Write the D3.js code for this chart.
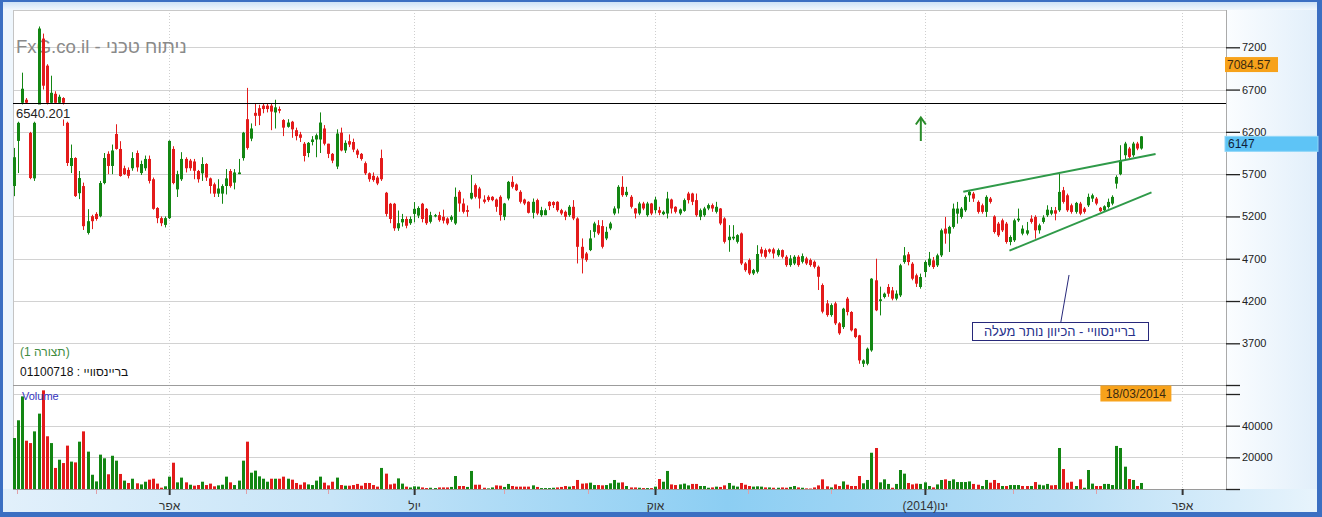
<!DOCTYPE html>
<html><head><meta charset="utf-8">
<script src="https://cdn.jsdelivr.net/npm/d3@7"></script>
<style>body{margin:0;background:#fff}svg{display:block;font-family:"Liberation Sans",Arial,sans-serif}</style>
</head><body><svg id="c" width="1322" height="517"></svg>
<script>
// ---------- DATA ----------
const opens = [5560,6093,6544,6580,6188,5650,6449,7303,6983,6544, 6650,6544,6600,6307,5797,5891,5475,5559,5005,5203,
 5230,5203,5595,5940,5797,6175,5998,5770,5750,5770, 5950,5713,5770,5880,5640,5300,5180,5100,5180,5998,
 5520,5640,5880,5860,5850,5737,5710,5820,5650,5580, 5470,5470,5560,5737,5600,5700,5890,6350,6120,6425,
 6480,6510,6510,6510,6430,6470,6340,6260,6320,6220, 6170,6060,5950,6080,6110,6110,6240,6060,5940,5790,
 6190,5980,6090,6080,5980,5940,5830,5710,5680,5660, 5890,5480,5350,5350,5060,5130,5170,5120,5230,5210,
 5350,5290,5137,5200,5215,5196,5176,5160,5117,5491, 5353,5275,5412,5570,5530,5400,5432,5432,5400,5432,
 5196,5412,5609,5578,5491,5400,5373,5243,5393,5215, 5215,5373,5370,5373,5274,5255,5215,5314,5176,4841,
 4762,4802,5018,5097,5086,4940,5058,5235,5294,5550, 5452,5432,5294,5235,5353,5215,5353,5274,5274,5227,
 5235,5400,5314,5235,5266,5471,5471,5393,5196,5215, 5294,5334,5255,5294,5176,4920,4940,4900,4999,4644,
 4684,4526,4546,4811,4802,4811,4811,4742,4802,4723, 4625,4644,4723,4664,4703,4684,4664,4605,4389,4172,
 4034,4172,3936,3892,4228,4070,3873,3794,3458,3458, 3616,4445,4200,4247,4366,4326,4228,4267,4661,4752,
 4641,4504,4366,4543,4622,4681,4622,4740,5056,4997, 5076,5233,5194,5273,5450,5470,5372,5332,5254,5411,
 5200,5115,5154,5115,4898,4918,5154,4997,4997,5174, 5194,5036,5135,5214,5233,5273,5273,5510,5450,5332,
 5254,5352,5293,5332,5411,5411,5302,5273,5312,5352, 5588,5699,5924,6003,5924,6062,6003];
const highs = [6010,6320,6900,6600,6200,6320,7446,7362,7000,6864, 6680,6640,6610,6320,6050,5900,5737,5600,5286,5220,
 5250,5620,5950,5970,6050,6290,6090,5800,5780,5960, 5980,5860,5920,5920,5660,5310,5200,5200,6100,6030,
 5740,5960,5900,5880,5880,5750,5900,5830,5660,5600, 5640,5580,5760,5760,5760,5880,6200,6720,6300,6530,
 6520,6530,6530,6540,6580,6500,6350,6350,6330,6250, 6200,6080,6080,6150,6180,6430,6280,6060,5950,6230,
 6250,6100,6170,6120,6000,5950,5850,5720,5720,5680, 5990,5490,5360,5360,5270,5230,5200,5200,5370,5320,
 5360,5300,5255,5230,5255,5280,5190,5215,5542,5510, 5412,5330,5690,5590,5550,5450,5450,5440,5412,5450,
 5360,5620,5676,5590,5510,5410,5380,5412,5410,5314, 5294,5380,5380,5380,5290,5270,5334,5393,5190,4940,
 4780,5038,5137,5156,5156,5078,5137,5320,5570,5676, 5550,5452,5300,5373,5373,5373,5360,5432,5314,5270,
 5491,5410,5320,5294,5412,5491,5480,5471,5294,5314, 5353,5353,5373,5300,5190,5097,5097,4990,5010,4660,
 4703,4580,4860,4841,4821,4821,4830,4821,4810,4742, 4742,4742,4742,4762,4723,4703,4680,4620,4408,4211,
 4172,4192,3950,4120,4248,4080,3880,3800,3510,3650, 4470,4700,4370,4300,4400,4366,4326,4640,4838,4780,
 4660,4524,4524,4681,4780,4720,4760,5056,5194,5090, 5352,5372,5312,5450,5510,5490,5390,5352,5450,5430,
 5214,5135,5174,5135,4977,5174,5293,5095,5135,5214, 5214,5115,5214,5332,5312,5312,5707,5549,5470,5352,
 5372,5372,5312,5470,5470,5430,5312,5332,5411,5450, 5687,6042,6082,6022,6082,6082,6150];
const lows = [5440,5713,6520,6530,5640,5620,6425,6700,6520,6530, 6530,6530,6271,5797,5713,5430,5405,5040,4986,5050,
 5150,5190,5580,5700,5700,5990,5670,5690,5650,5740, 5730,5690,5740,5590,5280,5120,5085,5070,5170,5580,
 5430,5620,5720,5740,5640,5600,5620,5620,5470,5430, 5430,5350,5460,5540,5520,5700,5860,5990,6090,6270,
 6280,6420,6430,6220,6240,6420,6150,6250,6130,6100, 6080,5850,5900,6040,5900,5950,6040,5890,5830,5760,
 5970,5950,6020,5960,5890,5860,5690,5610,5610,5570, 5620,5200,5120,5030,5030,5080,5060,5100,5130,5180,
 5130,5100,5117,5190,5137,5117,5097,5137,5100,5255, 5235,5196,5400,5412,5294,5353,5373,5380,5255,5150,
 5156,5390,5530,5500,5353,5334,5235,5176,5215,5196, 5215,5275,5300,5255,5215,5156,5196,5156,4644,4526,
 4664,4790,4950,4980,4821,4920,5038,5215,5235,5432, 5432,5294,5176,5215,5274,5196,5215,5235,5215,5215,
 5176,5235,5235,5215,5255,5353,5334,5196,5156,5196, 5274,5255,5235,5097,4880,4782,4920,4880,4625,4546,
 4507,4507,4526,4723,4703,4762,4703,4723,4703,4605, 4605,4625,4605,4644,4625,4605,4585,4330,4054,4014,
 4014,3916,3800,3870,4030,3840,3760,3458,3420,3440, 3600,4080,4030,4230,4250,4208,4208,4247,4641,4622,
 4445,4366,4346,4484,4602,4580,4602,4720,4878,4780, 5056,5115,5174,5254,5372,5372,5233,5233,5194,5352,
 4997,4957,5016,4878,4859,4898,5135,4977,4977,5115, 4937,4997,5115,5194,5214,5154,5254,5352,5254,5233,
 5233,5214,5233,5312,5372,5332,5254,5254,5293,5332, 5529,5687,5865,5884,5904,5983,5990];
const closes = [5900,6307,6710,6545,5654,6307,7422,6746,6544,6662, 6544,6615,6544,5832,5891,5441,5654,5085,5144,5144,
 5170,5595,5891,5797,5980,5998,5678,5700,5680,5890, 5780,5820,5880,5620,5290,5180,5120,5180,6093,5595,
 5700,5880,5770,5770,5740,5640,5820,5660,5560,5470, 5530,5559,5650,5559,5720,5720,6190,6010,6240,6390,
 6390,6470,6470,6440,6490,6450,6250,6310,6230,6150, 6130,5915,6070,6110,6160,6310,6060,5940,5860,6180,
 5980,6070,6050,5990,5930,5880,5710,5640,5630,5590, 5640,5230,5170,5060,5120,5170,5090,5170,5290,5300,
 5170,5120,5215,5215,5156,5150,5117,5196,5432,5353, 5255,5255,5479,5432,5412,5373,5393,5393,5314,5215,
 5353,5609,5550,5510,5373,5353,5243,5373,5235,5274, 5274,5322,5334,5274,5235,5196,5314,5176,4841,4703,
 4684,4940,5117,4999,4841,5018,5117,5294,5550,5452, 5491,5314,5235,5353,5294,5353,5235,5400,5243,5255,
 5412,5294,5255,5283,5393,5393,5373,5215,5274,5294, 5334,5294,5314,5117,4900,4960,4960,4979,4644,4565,
 4526,4566,4756,4762,4723,4782,4762,4802,4723,4625, 4703,4723,4625,4731,4644,4625,4605,4487,4074,4034,
 4152,3936,3818,4109,4070,3853,3774,3498,3498,3636, 4464,4090,4220,4287,4287,4228,4287,4622,4740,4661,
 4464,4405,4484,4661,4700,4602,4740,5036,4997,5076, 5293,5293,5293,5431,5490,5411,5254,5254,5431,5372,
 5016,4977,5036,4898,4957,5154,5174,5056,5036,5135, 5036,5095,5187,5280,5273,5233,5490,5372,5273,5254,
 5360,5233,5254,5431,5450,5352,5263,5320,5372,5431, 5667,5865,6062,5904,6062,6003,6147];
const volumes = [32200,43400,58500,30500,29000,36400,47600,62300,33300,29000, 13300,18500,16400,27400,17300,16800,29900,36400,23600,9000,
 4800,21700,19400,9300,21000,17900,9500,5300,3800,6500, 3600,2900,4600,5900,6500,3400,840,1700,7800,16600,
 4200,7200,4200,2700,2100,2500,4600,2500,3400,1700, 2300,2700,7800,4200,2500,5300,17900,29900,10300,11600,
 8000,6500,4600,6500,6500,6500,7800,6500,5900,3800, 2700,4200,2900,2500,5300,7800,4000,2300,4600,7200,
 2500,2100,2100,2500,3200,2100,3800,3800,2500,1500, 13300,9700,2900,3400,6700,3400,1500,1000,1700,1500,
 1000,600,800,600,1000,1000,1000,1300,8200,1900, 1900,1300,11400,2700,2700,800,400,1000,2300,2100,
 1300,3200,1900,1500,1500,1500,1500,2300,1300,600, 600,600,800,1000,1300,1900,1500,1900,5700,3400,
 3600,4000,2500,2500,2300,2500,3600,5700,4000,4200, 1900,1000,1000,800,600,600,600,1500,6300,4600,
 11400,2900,2500,2900,3400,2300,3200,3200,1900,1900, 800,1000,1500,1300,2300,3800,2100,1500,3800,2700,
 1900,1500,1700,1500,1000,1000,800,800,1000,800, 1300,1900,1000,800,400,300,1000,2300,6100,1700,
 1000,2900,1900,4800,2700,1900,1900,8200,3600,5700, 22900,25900,4200,6100,3200,800,3200,12000,9700,3800,
 2900,3400,3200,4200,1900,1000,2900,5700,6100,5100, 6100,4400,4400,4400,4800,3200,2700,1900,5700,4000,
 5700,3800,1900,1900,2500,2500,2500,1900,1900,1900, 4400,2700,2300,3200,2300,2500,25900,12600,4000,4600,
 1900,6100,800,12000,3400,1900,1900,3200,3200,2500, 27200,25900,14100,6300,5700,1900,3800];

const priceTicks = [7200, 6700, 6200, 5700, 5200, 4700, 4200, 3700];
const volumeTicks = [0, 20000, 40000, 60000];
const volumeTickLabels = ["", "20000", "40000", ""];
const majorTickIdx = [38.0, 98.0, 157.0, 223.1, 286.1];
const majorTickLabels = ["אפר", "יול", "אוק", "(2014)ינו", "אפר"];
const minorTickIdx = [0.7, 20.1, 56.8, 76.9, 120.0, 140.6, 179.8, 200.1, 244.7, 265.0];
const refLevel = 6540.201;
const markerValue = 7084.57;
const lastValue = 6147;
const lastDate = "18/03/2014";
const upperTrend = [[232.5, 5492], [279.6, 5938]];
const lowerTrend = [[243.8, 4795], [278.6, 5485]];
const arrowPts = [[222.1, 6092], [222.1, 6370]];
const calloutPts = [[258.4, 4508], [256.4, 3952]];
const titleText = "FxG.co.il - ניתוח טכני";
const patternText = "(1 תצורה)";
const symbolText = "01100718 : בריינסוויי";
const calloutText = "בריינסוויי - הכיוון נותר מעלה";

// ---------- LAYOUT ----------
const W = 1322, H = 517;
const L = 13, R = 1226, pTop = 10, pBot = 385, vTop = 394, vBot = 489;
const GREEN = "#138613", RED = "#e31b1b";

const svg = d3.select("#c");
const defs = svg.append("defs");
function lin(id, x2, y2, stops) {
  const g = defs.append("linearGradient").attr("id", id).attr("x1", 0).attr("y1", 0).attr("x2", x2).attr("y2", y2);
  stops.forEach(s => g.append("stop").attr("offset", s[0]).attr("stop-color", s[1]));
}
lin("gBottom", 1, 0, [[0, "#e2f0fb"], [0.25, "#c8e5f8"], [0.55, "#8ccef3"], [0.8, "#b8def6"], [1, "#e8f4fc"]]);
lin("gRight", 1, 0, [[0, "#fbfdff"], [1, "#e0eefa"]]);
lin("gTop", 0, 1, [[0, "#c4dcf4"], [1, "#f2f8fd"]]);
defs.append("clipPath").attr("id", "clipP").append("rect").attr("x", L).attr("y", pTop).attr("width", R - L).attr("height", pBot - pTop);

svg.append("rect").attr("width", W).attr("height", H).attr("fill", "#eef6fd");
svg.append("rect").attr("x", 0).attr("y", 0).attr("width", W).attr("height", pTop).attr("fill", "url(#gTop)");
svg.append("rect").attr("x", R).attr("y", pTop).attr("width", W - R).attr("height", vBot - pTop).attr("fill", "url(#gRight)");
svg.append("rect").attr("x", 0).attr("y", vBot).attr("width", W).attr("height", H - vBot).attr("fill", "url(#gBottom)");
svg.append("rect").attr("x", L).attr("y", pTop).attr("width", R - L).attr("height", vBot - pTop).attr("fill", "#fff");
// blue frame
const fr = "#3b6fc2";
svg.append("rect").attr("x", 0).attr("y", 0).attr("width", W).attr("height", 2).attr("fill", fr);
svg.append("rect").attr("x", 0).attr("y", 0).attr("width", 3).attr("height", H).attr("fill", fr);
svg.append("rect").attr("x", W - 5).attr("y", 0).attr("width", 5).attr("height", H).attr("fill", fr);
svg.append("rect").attr("x", 0).attr("y", H - 5).attr("width", W).attr("height", 5).attr("fill", fr);

// ---------- SCALES ----------
const x = d3.scaleLinear().domain([-0.25, 296.6]).range([L, R - 1]);
const yP = d3.scaleLinear().domain([3207, 7641]).range([pBot, pTop]);
const yV = d3.scaleLinear().domain([0, 60000]).range([vBot, vTop]);
const px = i => Math.round(x(i));

// ---------- GRID ----------
const grid = svg.append("g");
grid.selectAll(".hp").data(priceTicks).join("line")
  .attr("x1", L).attr("x2", R).attr("y1", d => Math.round(yP(d)) + 0.5).attr("y2", d => Math.round(yP(d)) + 0.5)
  .attr("stroke", "#d2d2d2");
grid.selectAll(".hv").data(volumeTicks.filter(d => d > 0)).join("line")
  .attr("x1", L).attr("x2", R).attr("y1", d => Math.round(yV(d)) + 0.5).attr("y2", d => Math.round(yV(d)) + 0.5)
  .attr("stroke", "#d2d2d2");
grid.selectAll(".vg").data(majorTickIdx).join("line")
  .attr("x1", d => px(d) + 0.5).attr("x2", d => px(d) + 0.5).attr("y1", pTop).attr("y2", vBot)
  .attr("stroke", "#cfcfcf").attr("stroke-dasharray", "1,2");
// panel borders
svg.append("line").attr("x1", L).attr("x2", R).attr("y1", pTop + 0.5).attr("y2", pTop + 0.5).attr("stroke", "#c8c8c8");
svg.append("line").attr("x1", L + 0.5).attr("x2", L + 0.5).attr("y1", pTop).attr("y2", vBot).attr("stroke", "#c4c4c4");
svg.append("line").attr("x1", L).attr("x2", R).attr("y1", pBot + 0.5).attr("y2", pBot + 0.5).attr("stroke", "#9c9c9c");
svg.append("line").attr("x1", L).attr("x2", R).attr("y1", vBot + 0.5).attr("y2", vBot + 0.5).attr("stroke", "#9a9a9a");
svg.append("line").attr("x1", R + 0.5).attr("x2", R + 0.5).attr("y1", pTop).attr("y2", vBot).attr("stroke", "#aaaaaa");

// ---------- TITLE ----------
svg.append("text").attr("x", 16).attr("y", 53).attr("font-size", 18.6).attr("fill", "#8a8a8a").text(titleText);

// ---------- CANDLES ----------
const idx = d3.range(closes.length);
const cg = svg.append("g").attr("clip-path", "url(#clipP)");
cg.selectAll(".wick").data(idx).join("line")
  .attr("x1", i => px(i) + 0.5).attr("x2", i => px(i) + 0.5)
  .attr("y1", i => yP(highs[i])).attr("y2", i => yP(lows[i]))
  .attr("stroke", i => closes[i] >= opens[i] ? GREEN : RED);
cg.selectAll(".body").data(idx).join("rect")
  .attr("x", i => px(i) - 1).attr("width", 3)
  .attr("y", i => yP(Math.max(opens[i], closes[i])))
  .attr("height", i => Math.max(1, Math.abs(yP(opens[i]) - yP(closes[i]))))
  .attr("fill", i => closes[i] >= opens[i] ? GREEN : RED);

// ---------- VOLUME ----------
svg.append("g").selectAll("rect").data(idx).join("rect")
  .attr("x", i => px(i) - 1).attr("width", 3)
  .attr("y", i => yV(volumes[i])).attr("height", i => vBot - yV(volumes[i]))
  .attr("fill", i => (i === 0 ? closes[i] >= opens[i] : closes[i] >= closes[i - 1]) ? GREEN : RED);
svg.append("text").attr("x", 22).attr("y", 400).attr("font-size", 11).attr("fill", "#3535c0").text("Volume");

// ---------- REFERENCE LINE ----------
const yRef = Math.round(yP(refLevel)) + 0.5;
svg.append("line").attr("x1", L).attr("x2", R).attr("y1", yRef).attr("y2", yRef).attr("stroke", "#000");
svg.append("rect").attr("x", L + 1).attr("y", yRef + 1).attr("width", 56).attr("height", 15).attr("fill", "#fff");
svg.append("text").attr("x", 16).attr("y", yRef + 14).attr("font-size", 13).attr("fill", "#222").text(refLevel.toFixed(3));

// ---------- TREND LINES / ANNOTATIONS ----------
const ln = d3.line().x(d => x(d[0])).y(d => yP(d[1]));
[upperTrend, lowerTrend].forEach(t => svg.append("path").attr("d", ln(t)).attr("fill", "none")
  .attr("stroke", "#2f9a49").attr("stroke-width", 2));
const ax = x(arrowPts[0][0]), ayB = yP(arrowPts[0][1]), ayT = yP(arrowPts[1][1]);
svg.append("line").attr("x1", ax).attr("x2", ax).attr("y1", ayB).attr("y2", ayT + 1).attr("stroke", "#2a8c2a").attr("stroke-width", 2);
svg.append("path").attr("d", `M${ax - 5},${ayT + 7}L${ax},${ayT}L${ax + 5},${ayT + 7}`).attr("fill", "none")
  .attr("stroke", "#2a8c2a").attr("stroke-width", 2);
svg.append("path").attr("d", ln(calloutPts)).attr("stroke", "#27287a").attr("fill", "none");
const cx = x(calloutPts[1][0]), cy = yP(calloutPts[1][1]);
svg.append("rect").attr("x", Math.round(cx - 89) + 0.5).attr("y", Math.round(cy) + 0.5).attr("width", 176).attr("height", 18)
  .attr("fill", "#fff").attr("stroke", "#27287a");
svg.append("text").attr("x", cx - 1).attr("y", cy + 14).attr("text-anchor", "middle").attr("font-size", 13)
  .attr("fill", "#26308a").text(calloutText);

// ---------- LEFT LABELS ----------
svg.append("text").attr("x", 20).attr("y", 356).attr("font-size", 12).attr("fill", "#3f8c3f").text(patternText);
svg.append("text").attr("x", 20).attr("y", 376).attr("font-size", 12).attr("fill", "#111").text(symbolText);

// ---------- RIGHT AXES ----------
const ra = svg.append("g").attr("transform", `translate(${R},0)`)
  .call(d3.axisRight(yP).tickValues(priceTicks).tickSize(14).tickPadding(2).tickFormat(d3.format("d")));
const rv = svg.append("g").attr("transform", `translate(${R},0)`)
  .call(d3.axisRight(yV).tickValues(volumeTicks).tickSize(14).tickPadding(2).tickFormat((d, i) => volumeTickLabels[i]));
[ra, rv].forEach(g => {
  g.select(".domain").remove();
  g.selectAll("line").attr("stroke", "#222").attr("stroke-width", 1.3);
  g.selectAll("text").attr("font-size", 11).attr("fill", "#222").attr("font-family", "Liberation Sans, Arial");
});
svg.append("line").attr("x1", R).attr("x2", R + 14).attr("y1", pBot + 0.5).attr("y2", pBot + 0.5).attr("stroke", "#222").attr("stroke-width", 1.3);

const ym = yP(markerValue);
svg.append("rect").attr("x", R - 1).attr("y", ym).attr("width", 53).attr("height", 15).attr("fill", "#f7a21b");
svg.append("text").attr("x", R + 1).attr("y", ym + 12).attr("font-size", 12).attr("fill", "#3a2a10").text(markerValue.toFixed(2));
const yl = yP(lastValue);
svg.append("rect").attr("x", R - 1).attr("y", yl).attr("width", 93).attr("height", 15).attr("fill", "#5ec4f6").attr("stroke", "#8fd6f8");
svg.append("text").attr("x", R + 2).attr("y", yl + 12).attr("font-size", 12).attr("fill", "#0f1e3a").text(lastValue);
const dx = x(closes.length - 1) - 5;
svg.append("rect").attr("x", dx - 35.5).attr("y", pBot + 0.5).attr("width", 71).attr("height", 16).attr("fill", "#f7a21b");
svg.append("text").attr("x", dx).attr("y", pBot + 13).attr("text-anchor", "middle").attr("font-size", 12).attr("fill", "#3a2a10").text(lastDate);

// ---------- BOTTOM AXIS ----------
const bx = svg.append("g").attr("transform", `translate(0,${vBot})`)
  .call(d3.axisBottom(x).tickValues(majorTickIdx).tickSize(6).tickPadding(6).tickFormat((d, i) => majorTickLabels[i]));
bx.select(".domain").remove();
bx.selectAll("line").attr("stroke", "#333").attr("stroke-width", 2);
bx.selectAll("text").attr("font-size", 12).attr("fill", "#333").attr("font-family", "Liberation Sans, Arial");
svg.append("g").selectAll("line").data(minorTickIdx).join("line")
  .attr("x1", d => px(d) + 0.5).attr("x2", d => px(d) + 0.5).attr("y1", vBot + 1).attr("y2", vBot + 5)
  .attr("stroke", "#e0a0a8");
</script></body></html>
